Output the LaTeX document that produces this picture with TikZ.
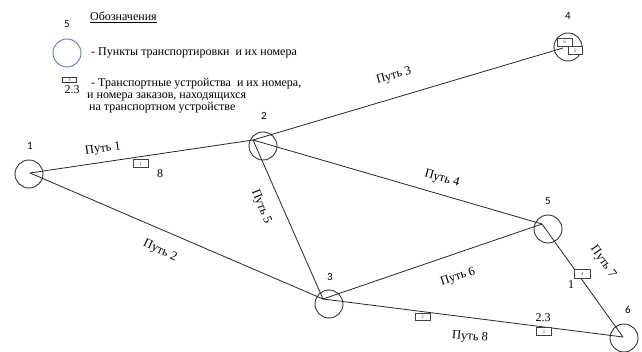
\documentclass[tikz,border=0pt]{standalone}
\usepackage{fontspec}
\setmainfont{Liberation Serif}
\newfontfamily\serfont{Liberation Serif}
\newfontfamily\numfont{Carlito}
\definecolor{legblue}{RGB}{84,125,185}
\begin{document}
\begin{tikzpicture}[x=1pt,y=-1pt,
  pt/.style={circle,draw=black!80,line width=0.9pt,minimum size=28pt,inner sep=0pt},
  road/.style={draw=black!85,line width=0.8pt},
  lbl/.style={font=\serfont\fontsize{12.5}{14}\selectfont,inner sep=0pt},
  num/.style={font=\numfont\fontsize{11}{12}\selectfont},
  dev/.style={draw=black!75,line width=0.7pt,minimum width=15pt,minimum height=8pt,inner sep=0pt,font=\serfont\fontsize{5}{5}\selectfont,text=black!70},
  ann/.style={font=\serfont\fontsize{12}{13}\selectfont,inner sep=0pt}]
\useasboundingbox (0,0) rectangle (642,352);
% legend
\node[num] (l5) at (67,24) {5};
\node[ann,anchor=west] (legt) at (90,17) {\underline{Обозначения}};
\node[pt,draw=legblue] (lc) at (67,53) {};
\node[ann,anchor=west] (lt1) at (91,53) {- Пункты транспортировки\ \ и их номера};
\node[draw=black!80,line width=0.9pt,minimum width=14pt,minimum height=5pt,inner sep=0pt,font=\serfont\fontsize{4}{4}\selectfont] (lb) at (69.5,80) {3};
\node[ann] (l23) at (72,89.5) {2.3};
\node[ann,anchor=west] (lt2) at (91,84) {- Транспортные устройства\ \ и их номера,};
\node[ann,anchor=west] (lt3) at (87,97) {и номера заказов, находящихся};
\node[ann,anchor=west] (lt4) at (89,108) {на транспортном устройстве};
% points
\node[pt] (c1) at (29,174) {};
\node[pt] (c2) at (263,146) {};
\node[pt] (c3) at (329,304) {};
\node[pt] (c4) at (568,47) {};
\node[pt] (c5) at (548,229) {};
\node[pt] (c6) at (624,338) {};
\coordinate (h1) at (30,173);
\coordinate (h2) at (253,140);
\coordinate (h3) at (323,299);
\coordinate (h4) at (563,48);
\coordinate (h5) at (542,224);
\coordinate (h6) at (623,337);
\node[num] (n1) at (30,146) {1};
\node[num] (n2) at (264,116) {2};
\node[num] (n3) at (330,277) {3};
\node[num] (n4) at (568,16) {4};
\node[num] (n5) at (548,201) {5};
\node[num] (n6) at (628,310) {6};
% roads
\draw[road] (h1) -- (h2);
\draw[road] (h1) -- (h3);
\draw[road] (h2) -- (h4);
\draw[road] (h2) -- (h5);
\draw[road] (h2) -- (h3);
\draw[road] (h3) -- (h5);
\draw[road] (h5) -- (h6);
\draw[road] (h3) -- (h6);
% road labels
\node[lbl,rotate=8] (p1) at (103,149) {Путь 1};
\node[lbl,rotate=-25] (p2) at (160,251) {Путь 2};
\node[lbl,rotate=16] (p3) at (394,76) {Путь 3};
\node[lbl,rotate=-16] (p4) at (442,179) {Путь 4};
\node[lbl,rotate=-68] (p5) at (261,207) {Путь 5};
\node[lbl,rotate=18] (p6) at (458,277) {Путь 6};
\node[lbl,rotate=-55] (p7) at (603,262) {Путь 7};
\node[lbl,rotate=-5] (p8) at (470,337) {Путь 8};
% devices
\node[dev,fill=white] (d1) at (140.5,163.5) {1};
\node[ann] (o1) at (160,174) {8};
\node[dev,fill=white] (d6) at (564.5,42) {6};
\node[dev,fill=white,minimum width=14pt] (d5) at (575,50.5) {5};
\node[dev,fill=white,minimum width=16pt,minimum height=9pt] (d4) at (582,273.5) {4};
\node[ann] (o4) at (571,285) {1};
\node[dev,fill=white] (d3) at (543.5,331.5) {3};
\node[ann] (o3) at (543,318) {2.3};
\node[dev,fill=white,minimum height=7pt] (d2) at (422.5,316.5) {2};
\end{tikzpicture}
\end{document}
